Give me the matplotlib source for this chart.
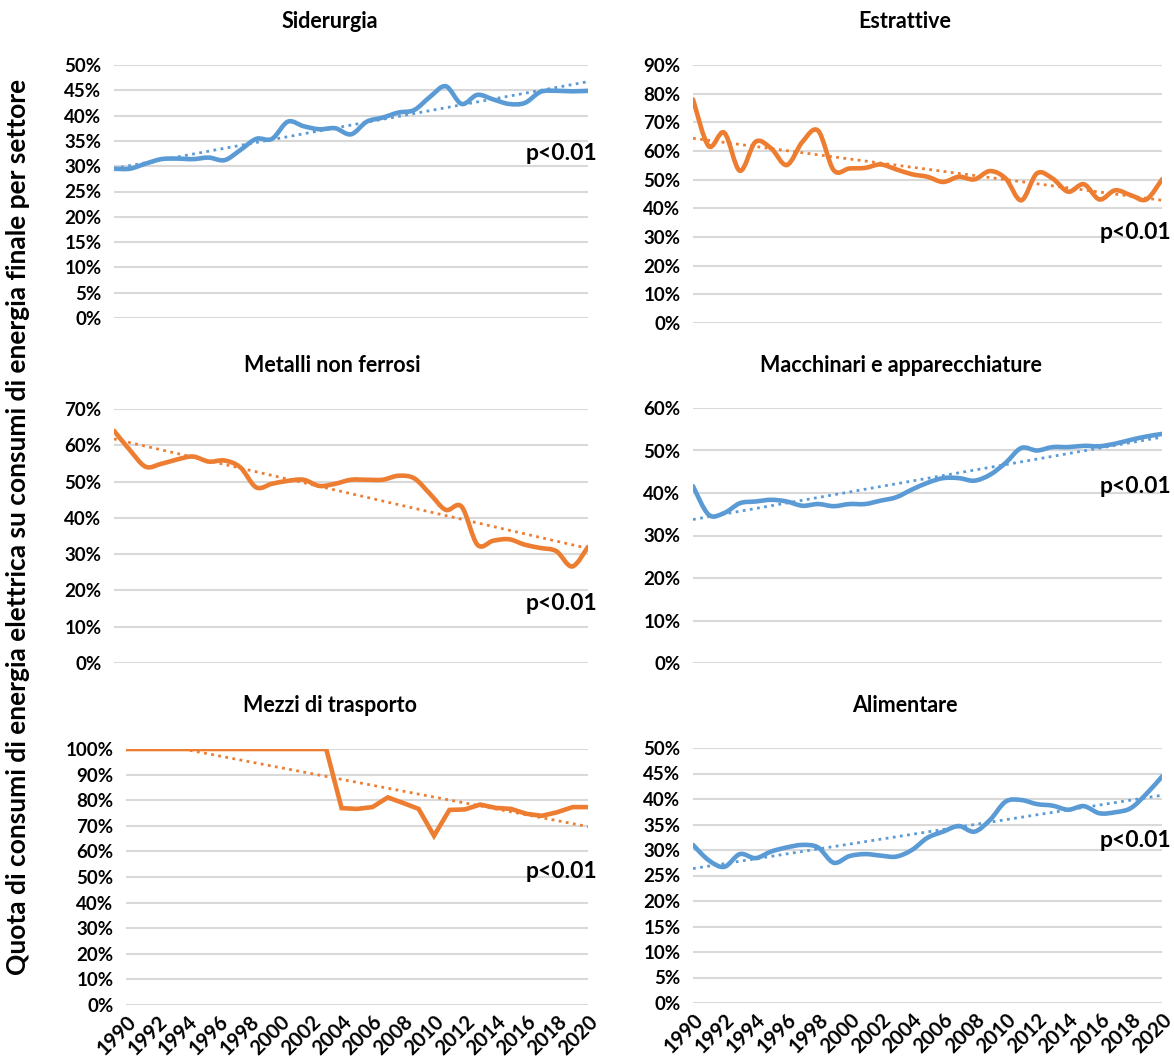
import numpy as np
import matplotlib.pyplot as plt
from matplotlib.path import Path
from matplotlib.patches import PathPatch
from matplotlib.ticker import FuncFormatter

plt.rcParams['font.family'] = ['Lato', 'DejaVu Sans']
plt.rcParams['font.weight'] = 'bold'

# Dati: quota (%) di energia elettrica sui consumi finali, 1990-2020
anni = np.arange(1990, 2021)

siderurgia = [29.5, 29.5, 30.5, 31.4, 31.5, 31.4, 31.7, 31.2, 33.2, 35.4,
              35.4, 38.8, 37.9, 37.3, 37.5, 36.3, 38.8, 39.6, 40.6, 41.1,
              43.7, 45.8, 42.3, 44.1, 43.2, 42.3, 42.5, 44.7, 44.9, 44.8, 44.9]

estrattive = [78.0, 61.7, 66.4, 53.1, 63.2, 60.9, 55.1, 63.2, 67.1, 53.3,
              53.9, 54.1, 55.3, 53.6, 51.9, 51.0, 49.2, 51.0, 50.1, 53.0,
              50.4, 42.8, 52.2, 50.4, 45.8, 48.4, 43.1, 46.3, 44.6, 43.1, 50.1]

metalli = [64.0, 58.7, 54.1, 54.9, 56.1, 56.9, 55.5, 55.8, 53.9, 48.4,
           49.4, 50.2, 50.5, 48.8, 49.4, 50.5, 50.5, 50.5, 51.6, 50.9,
           46.6, 42.2, 43.1, 32.6, 33.7, 34.1, 32.6, 31.7, 30.8, 26.6, 32.0]

macchinari = [41.6, 34.9, 35.3, 37.6, 38.0, 38.4, 38.0, 37.0, 37.4, 36.9,
              37.4, 37.4, 38.2, 39.0, 40.8, 42.4, 43.5, 43.5, 42.9, 44.3,
              47.1, 50.6, 50.0, 50.8, 50.8, 51.1, 51.0, 51.6, 52.5, 53.3, 53.9]

trasporto = [100, 100, 100, 100, 100, 100, 100, 100, 100, 100,
             100, 100, 100, 100, 76.9, 76.6, 77.3, 81.1, 78.9, 76.6,
             66.1, 76.2, 76.4, 78.3, 77.0, 76.6, 74.7, 73.9, 75.3, 77.3, 77.3]

alimentare = [31.0, 28.0, 26.7, 29.2, 28.4, 29.7, 30.5, 31.0, 30.5, 27.5,
              28.8, 29.2, 28.9, 28.7, 30.0, 32.4, 33.6, 34.7, 33.6, 35.9,
              39.5, 39.8, 39.0, 38.7, 37.9, 38.6, 37.2, 37.4, 38.2, 41.0, 44.4]

BLU = '#5B9BD5'
ARANCIO = '#ED7D31'
GRIGIO = '#D9D9D9'

W, H = 1174, 1064


def rect(x0, x1, y0, y1):
    return [x0 / W, 1 - y1 / H, (x1 - x0) / W, (y1 - y0) / H]


def smooth_path(x, y):
    # curva di Bezier come le linee "smussate" di Excel
    p = np.column_stack([x, y]).astype(float)
    n = len(p)
    verts = [p[0]]
    codes = [Path.MOVETO]
    for i in range(n - 1):
        p0 = p[i - 1] if i > 0 else p[i]
        p3 = p[i + 2] if i + 2 < n else p[i + 1]
        c1 = p[i] + (p[i + 1] - p0) / 6
        c2 = p[i + 1] - (p3 - p[i]) / 6
        verts += [c1, c2, p[i + 1]]
        codes += [Path.CURVE4] * 3
    return Path(verts, codes)


fig = plt.figure(figsize=(W / 100, H / 100), dpi=100)

pannelli = [
    ('Siderurgia', siderurgia, BLU, rect(114, 588, 65, 318), 50, 5, 32.5, True, (330, 22)),
    ('Estrattive', estrattive, ARANCIO, rect(693, 1162, 65, 323), 90, 10, 31.4, True, (905, 22)),
    ('Metalli non ferrosi', metalli, ARANCIO, rect(114, 588, 409, 663), 70, 10, 16.5, True, (332, 365)),
    ('Macchinari e apparecchiature', macchinari, BLU, rect(693, 1162, 408, 663), 60, 10, 41.6, True, (901, 365)),
    ('Mezzi di trasporto', trasporto, ARANCIO, rect(126, 588, 749, 1005), 100, 10, 52.1, False, (330, 706)),
    ('Alimentare', alimentare, BLU, rect(693, 1162, 748, 1003), 50, 5, 31.8, True, (905, 706)),
]

for i, (titolo, valori, colore, pos, ymax, passo, ytesto, liscio, tpos) in enumerate(pannelli):
    ax = fig.add_axes(pos)
    ax.set_xlim(1990, 2020)
    ax.set_ylim(0, ymax)
    ax.set_yticks(np.arange(0, ymax + 0.1, passo))
    ax.yaxis.set_major_formatter(FuncFormatter(lambda v, _: f'{v:.0f}%'))
    ax.grid(axis='y', color=GRIGIO, lw=1.5)
    ax.set_axisbelow(True)
    for s in ax.spines.values():
        s.set_visible(False)
    ax.tick_params(length=0, labelsize=13.5, pad=9)

    if liscio:
        ax.add_patch(PathPatch(smooth_path(anni, valori), fill=False, edgecolor=colore,
                               lw=3.3, capstyle='round', joinstyle='round', zorder=3))
    else:
        ax.plot(anni, valori, color=colore, lw=3.3, solid_joinstyle='miter', zorder=3)

    # retta di tendenza lineare
    m, q = np.polyfit(anni, valori, 1)
    ax.plot(anni, m * anni + q, color=colore, lw=2, ls=(0, (1, 1.6)), zorder=2)

    ax.annotate('p<0.01', xy=(1, ytesto), xycoords=('axes fraction', 'data'),
                xytext=(7, 0), textcoords='offset points', ha='right', va='center',
                fontsize=16.5, fontweight='bold', annotation_clip=False)

    ax.set_xticks(anni[::2])
    if i >= 4:
        ax.set_xticklabels([str(a) for a in anni[::2]], rotation=45, ha='right',
                           rotation_mode='anchor')
        ax.tick_params(axis='x', pad=5, labelsize=14.5)
    else:
        ax.set_xticklabels([])

    fig.text(tpos[0] / W, 1 - tpos[1] / H, titolo, ha='center', va='center',
             fontsize=15.5, fontweight='bold')

fig.text(18 / W, 0.505, 'Quota di consumi di energia elettrica su consumi di energia finale per settore',
         rotation=90, ha='center', va='center', fontsize=19, fontweight='bold')

fig.savefig('out.png', dpi=100)
